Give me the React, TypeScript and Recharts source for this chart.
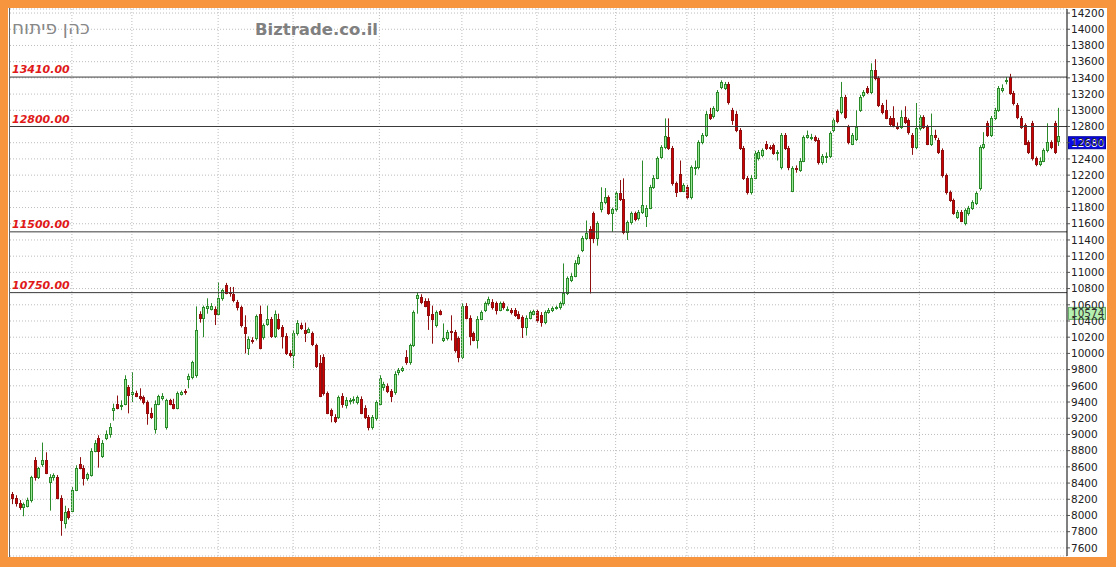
import { ComposedChart, Bar, XAxis, YAxis, CartesianGrid, ReferenceLine } from "recharts";

// daily OHLC (oldest first)
const opens = [
  8270, 8210, 8150, 8100, 8120, 8190, 8680, 8470, 8630, 8680,
  8410, 8480, 8470, 8220, 7910, 8060, 8060, 8310, 8640, 8590,
  8460, 8500, 8800, 8960, 8730, 8960, 9000, 9300, 9380, 9350,
  9380, 9580, 9500, 9510, 9470, 9460, 9400, 9260, 9070, 9380,
  9450, 9090, 9420, 9380, 9330, 9500, 9540, 9680, 9710, 9730,
  10490, 10440, 10560, 10550, 10550, 10490, 10680, 10840, 10760, 10730,
  10630, 10570, 10320, 10070, 10170, 10190, 10490, 10200, 10360, 10420,
  10210, 10430, 10330, 10220, 10000, 9980, 10250, 10350, 10290, 10270,
  10250, 10100, 9880, 9960, 9510, 9300, 9220, 9210, 9480, 9360,
  9410, 9430, 9400, 9440, 9330, 9210, 9090, 9200, 9380, 9580,
  9600, 9530, 9520, 9770, 9790, 9950, 9890, 10100, 10680, 10700,
  10650, 10650, 10490, 10350, 10520, 10160, 10190, 10280, 10260, 10190,
  9950, 10590, 10440, 10250, 10170, 10430, 10530, 10620, 10640, 10620,
  10540, 10620, 10540, 10530, 10530, 10490, 10450, 10330, 10440, 10490,
  10520, 10480, 10390, 10510, 10530, 10560, 10570, 10620, 10740, 10900,
  10960, 11110, 11270, 11420, 11540, 11730, 11430, 11780, 11870, 11930,
  11730, 11780, 11980, 11900, 11500, 11620, 11730, 11670, 11740, 11700,
  11800, 12050, 12170, 12420, 12550, 12670, 12530, 12100, 12220, 12010,
  12050, 11930, 12290, 12300, 12610, 12690, 12960, 12930, 13000, 13290,
  13270, 13320, 13000, 12960, 12760, 12530, 12160, 11990, 12170, 12410,
  12450, 12590, 12550, 12570, 12470, 12300, 12690, 12530, 12010, 12290,
  12260, 12380, 12670, 12670, 12670, 12630, 12360, 12430, 12430, 12760,
  12990, 12980, 13160, 12790, 12590, 12640, 13000, 13190, 13270, 13220,
  13500, 13400, 13060, 13000, 12900, 12900, 12800, 12790, 12920, 12880,
  12690, 12550, 12780, 12920, 12790, 12580, 12690, 12630, 12510, 12200,
  11990, 11890, 11680, 11740, 11610, 11730, 11790, 11850, 12040, 12550,
  12840, 12690, 12900, 13000, 13250, 13370, 13410, 13210, 13060, 12900,
  12820, 12610, 12840, 12410, 12340, 12380, 12510, 12610, 12840, 12620,
];

const highs = [
  8290, 8250, 8190, 8160, 8220, 8490, 8720, 8600, 8900, 8780,
  8510, 8520, 8500, 8250, 8120, 8090, 8350, 8620, 8720, 8620,
  8530, 8830, 8930, 8990, 8930, 9050, 9140, 9380, 9480, 9420,
  9730, 9610, 9770, 9540, 9570, 9480, 9420, 9330, 9420, 9490,
  9510, 9440, 9440, 9440, 9530, 9540, 9560, 9750, 9910, 10580,
  10520, 10590, 10680, 10620, 10580, 10880, 10800, 10870, 10820, 10820,
  10660, 10590, 10470, 10210, 10200, 10480, 10590, 10370, 10590, 10450,
  10530, 10490, 10350, 10250, 10040, 10290, 10410, 10380, 10380, 10320,
  10270, 10120, 9980, 9990, 9530, 9320, 9250, 9480, 9510, 9460,
  9450, 9470, 9480, 9470, 9360, 9240, 9240, 9420, 9730, 9650,
  9630, 9560, 9780, 9820, 9840, 10040, 10120, 10530, 10750, 10730,
  10680, 10680, 10590, 10530, 10540, 10370, 10290, 10470, 10290, 10210,
  10620, 10620, 10470, 10270, 10460, 10530, 10640, 10700, 10670, 10640,
  10640, 10640, 10580, 10560, 10560, 10520, 10470, 10470, 10530, 10540,
  10540, 10510, 10530, 10560, 10580, 10590, 10640, 11110, 10950, 10990,
  11150, 11220, 11450, 11640, 11570, 11750, 11630, 12050, 12040, 11950,
  11800, 12000, 12140, 12160, 11640, 11750, 11750, 11770, 12380, 11830,
  12080, 12200, 12430, 12570, 12900, 12900, 12560, 12120, 12380, 12100,
  12080, 12320, 12380, 12630, 12720, 12990, 13030, 13050, 13250, 13370,
  13350, 13350, 13030, 12990, 12780, 12560, 12190, 12200, 12500, 12510,
  12530, 12620, 12570, 12590, 12510, 12720, 12720, 12560, 12310, 12320,
  12410, 12690, 12750, 12710, 12690, 12660, 12460, 12480, 12740, 12900,
  13010, 13350, 13190, 12820, 12720, 13000, 13190, 13250, 13300, 13580,
  13630, 13420, 13090, 13130, 12930, 13050, 12850, 13000, 13050, 12900,
  12720, 13090, 12940, 12940, 12820, 12960, 12760, 12660, 12530, 12220,
  12010, 11910, 11770, 11770, 11790, 11820, 11890, 12000, 12570, 12730,
  12870, 12930, 13030, 13300, 13320, 13410, 13450, 13240, 13090, 12930,
  12840, 12630, 12870, 12430, 12420, 12530, 12840, 12630, 12870, 13030,
];

const lows = [
  8140, 8110, 8070, 7990, 8100, 8160, 8430, 8450, 8600, 8510,
  8060, 8430, 8200, 7750, 7840, 7950, 8040, 8300, 8570, 8370,
  8430, 8480, 8780, 8590, 8710, 8930, 8960, 9170, 9310, 9300,
  9360, 9260, 9400, 9460, 9420, 9370, 9120, 9190, 9010, 9360,
  9420, 9060, 9360, 9310, 9310, 9480, 9490, 9570, 9680, 9700,
  10380, 10200, 10490, 10530, 10350, 10470, 10650, 10730, 10700, 10630,
  10530, 10320, 10000, 9980, 10120, 10160, 10050, 10170, 10340, 10190,
  10190, 10290, 10060, 9980, 9950, 9820, 10220, 10290, 10140, 10250,
  10090, 9820, 9460, 9480, 9250, 9150, 9140, 9190, 9330, 9320,
  9370, 9380, 9370, 9250, 9190, 9050, 9060, 9170, 9360, 9540,
  9510, 9400, 9490, 9730, 9770, 9860, 9860, 10080, 10490, 10610,
  10570, 10290, 10120, 10320, 10470, 10140, 10160, 10160, 10010, 9890,
  9930, 10420, 10100, 10150, 10060, 10410, 10510, 10590, 10540, 10480,
  10520, 10540, 10520, 10480, 10450, 10420, 10190, 10220, 10420, 10470,
  10380, 10330, 10360, 10490, 10510, 10540, 10540, 10590, 10720, 10880,
  10940, 11090, 11250, 11400, 10740, 11360, 11330, 11740, 11840, 11710,
  11500, 11750, 11880, 11470, 11400, 11590, 11630, 11640, 11720, 11560,
  11780, 12030, 12150, 12400, 12520, 12510, 12070, 11930, 11990, 11990,
  11900, 11900, 12200, 12270, 12580, 12670, 12880, 12900, 12980, 13260,
  13250, 13070, 12820, 12730, 12510, 12140, 11960, 11960, 12150, 12380,
  12420, 12510, 12510, 12450, 12380, 12270, 12510, 12260, 11990, 12230,
  12240, 12360, 12650, 12630, 12610, 12330, 12330, 12350, 12410, 12730,
  12840, 12950, 12890, 12580, 12570, 12620, 12980, 13160, 13200, 13200,
  13370, 13040, 12950, 12890, 12800, 12790, 12760, 12770, 12830, 12700,
  12450, 12520, 12750, 12770, 12570, 12560, 12630, 12460, 12170, 11960,
  11870, 11710, 11660, 11620, 11580, 11700, 11770, 11830, 12010, 12520,
  12670, 12670, 12880, 12980, 13220, 13320, 13190, 13060, 12890, 12770,
  12570, 12460, 12380, 12310, 12310, 12360, 12480, 12520, 12460, 12560,
];

const closes = [
  8210, 8150, 8100, 8140, 8190, 8470, 8470, 8580, 8680, 8530,
  8480, 8500, 8220, 7940, 8040, 7980, 8310, 8580, 8590, 8460,
  8510, 8800, 8890, 8800, 8900, 9010, 9090, 9330, 9330, 9360,
  9690, 9490, 9520, 9480, 9450, 9400, 9260, 9210, 9380, 9470,
  9470, 9420, 9380, 9330, 9510, 9520, 9520, 9720, 9890, 10290,
  10440, 10570, 10580, 10580, 10490, 10680, 10780, 10750, 10740, 10660,
  10570, 10350, 10250, 10180, 10150, 10460, 10070, 10350, 10420, 10210,
  10490, 10310, 10220, 10000, 9980, 10250, 10370, 10310, 10250, 10300,
  10110, 9840, 9480, 9510, 9270, 9240, 9170, 9460, 9380, 9420,
  9430, 9440, 9460, 9270, 9210, 9090, 9210, 9400, 9700, 9620,
  9530, 9480, 9750, 9790, 9820, 9890, 10100, 10510, 10720, 10630,
  10590, 10470, 10430, 10510, 10490, 10190, 10260, 10270, 10040, 9950,
  10590, 10440, 10220, 10170, 10430, 10510, 10620, 10670, 10570, 10540,
  10620, 10570, 10550, 10510, 10470, 10440, 10320, 10440, 10510, 10520,
  10410, 10390, 10510, 10530, 10560, 10570, 10620, 10740, 10930, 10960,
  11110, 11190, 11420, 11480, 11430, 11430, 11610, 11870, 11930, 11730,
  11780, 11980, 11900, 11500, 11620, 11730, 11660, 11740, 11830, 11800,
  12050, 12170, 12410, 12550, 12680, 12530, 12100, 11990, 12010, 12080,
  11930, 12300, 12300, 12610, 12690, 12960, 12900, 13030, 13220, 13350,
  13320, 13100, 12880, 12760, 12530, 12160, 11990, 12170, 12470, 12480,
  12510, 12530, 12540, 12470, 12480, 12690, 12530, 12300, 12290, 12280,
  12380, 12670, 12690, 12670, 12630, 12360, 12430, 12440, 12720, 12880,
  12870, 13160, 12920, 12610, 12690, 12800, 13160, 13220, 13220, 13500,
  13400, 13060, 12980, 12910, 12830, 12820, 12790, 12920, 12850, 12730,
  12550, 12780, 12920, 12790, 12590, 12690, 12670, 12480, 12200, 11990,
  11890, 11730, 11740, 11640, 11770, 11790, 11870, 11980, 12550, 12580,
  12690, 12900, 13000, 13270, 13270, 13380, 13210, 13090, 12920, 12790,
  12590, 12480, 12410, 12340, 12380, 12510, 12610, 12550, 12480, 12680,
];

// candle index where each month starts (vertical grid lines)
const monthStarts = [16, 32, 55, 75, 98, 120, 140, 161, 180, 198, 219, 242, 262];

const priceTicks = [
  7600, 7800, 8000, 8200, 8400, 8600, 8800, 9000, 9200, 9400, 9600, 9800,
  10000, 10200, 10400, 10600, 10800, 11000, 11200, 11400, 11600, 11800,
  12000, 12200, 12400, 12600, 12800, 13000, 13200, 13400, 13600, 13800,
  14000, 14200,
];

const levels = [13410, 12800, 11500, 10750];
const lastPrice = 12680;
const markPrice = 10574;

const rows = closes.map((c, i) => ({ i, o: opens[i], h: highs[i], l: lows[i], c }));

const UP_FILL = "#98e898";
const UP_LINE = "#2a8a2a";
const DN_FILL = "#cc0000";
const DN_LINE = "#8e1010";

function Candle(props: any) {
  const { x, y, width, height, payload } = props;
  if (!payload || height == null || isNaN(y)) return null;
  const { o, h, l, c } = payload;
  const top = Math.min(y, y + height);
  const hh = Math.abs(height);
  const k = hh / (h - l);
  const yOf = (v: number) => top + (h - v) * k;
  const cx = Math.round(x + width / 2);
  const up = c >= o;
  const bTop = Math.round(yOf(Math.max(o, c)));
  const bBot = Math.round(yOf(Math.min(o, c)));
  const line = up ? UP_LINE : DN_LINE;
  return (
    <g>
      <line x1={cx + 0.5} x2={cx + 0.5} y1={top} y2={top + hh} stroke={line} strokeWidth={1} />
      <rect
        x={cx - 0.5}
        y={bTop + 0.5}
        width={2}
        height={Math.max(bBot - bTop, 1)}
        fill={up ? UP_FILL : DN_FILL}
        stroke={line}
        strokeWidth={1}
      />
    </g>
  );
}

function levelLabel(text: string) {
  return (p: any) => {
    const vb = p.viewBox || {};
    return (
      <text
        x={vb.x + 2}
        y={vb.y - 4}
        fill="#e01818"
        fontSize={11}
        fontStyle="italic"
        fontWeight="bold"
        fontFamily="DejaVu Sans, sans-serif"
      >
        {text}
      </text>
    );
  };
}

function priceTag(text: string, bg: string, fg: string, border: string) {
  return (p: any) => {
    const vb = p.viewBox || {};
    const x0 = vb.x + vb.width + 1;
    return (
      <g>
        <rect x={x0 + 0.5} y={vb.y + 0.5} width={37} height={12} fill={bg} stroke={border} />
        <text x={x0 + 3} y={vb.y + 10.5} fill={fg} fontSize={10.5} fontFamily="DejaVu Sans, sans-serif">
          {text}
        </text>
      </g>
    );
  };
}

export default function App() {
  return (
    <div style={{ position: "absolute", left: 0, top: 0, width: 1116, height: 567, background: "#f7953f" }}>
      <div style={{ position: "absolute", left: 8, top: 8, width: 1099, height: 549, background: "#fff" }}>
        <ComposedChart width={1099} height={549} data={rows} margin={{ top: 1, right: 0, bottom: 0, left: 2 }} barCategoryGap={0}>
          <CartesianGrid stroke="#bdbdbd" strokeDasharray="1 2" vertical={false} />
          <XAxis
            dataKey="i"
            type="category"
            interval={0}
            tick={false}
            tickLine={false}
            axisLine={false}
            height={1}
            padding={{ left: 0, right: 7 }}
          />
          <YAxis
            orientation="right"
            domain={[7500, 14250]}
            ticks={priceTicks}
            allowDataOverflow
            width={40}
            interval={0}
            tickSize={3}
            tickMargin={1}
            axisLine={{ stroke: "#000" }}
            tickLine={{ stroke: "#555" }}
            tick={{ fontSize: 10.5, fill: "#222", fontFamily: "DejaVu Sans, sans-serif" }}
          />
          {monthStarts.map((m) => (
            <ReferenceLine key={"m" + m} x={m} stroke="#bdbdbd" strokeDasharray="1 2" />
          ))}
          {levels.map((lv) => (
            <ReferenceLine key={lv} y={lv} stroke="#3a3a3a" strokeWidth={1} label={levelLabel(lv.toFixed(2))} />
          ))}
          <Bar dataKey={(d: any) => [d.l, d.h]} shape={Candle} isAnimationActive={false} />
          <ReferenceLine y={lastPrice} stroke="none" label={priceTag(String(lastPrice), "#0a0ae6", "#fff", "#0000a0")} />
          <ReferenceLine y={markPrice} stroke="none" label={priceTag(String(markPrice), "#b6f0b0", "#333", "#6aaa6a")} />
        </ComposedChart>
        <div style={{ position: "absolute", left: 1, top: 0, width: 1, height: 549, background: "#666" }} />
        <div
          dir="rtl"
          style={{ position: "absolute", left: 4, top: 9, fontFamily: "DejaVu Sans, sans-serif", fontSize: 18.5, color: "#888", whiteSpace: "nowrap" }}
        >
          כהן פיתוח
        </div>
        <div
          style={{ position: "absolute", left: 247, top: 12, fontFamily: "DejaVu Sans, sans-serif", fontSize: 16.5, fontWeight: "bold", color: "#808080", whiteSpace: "nowrap" }}
        >
          Biztrade.co.il
        </div>
      </div>
    </div>
  );
}
